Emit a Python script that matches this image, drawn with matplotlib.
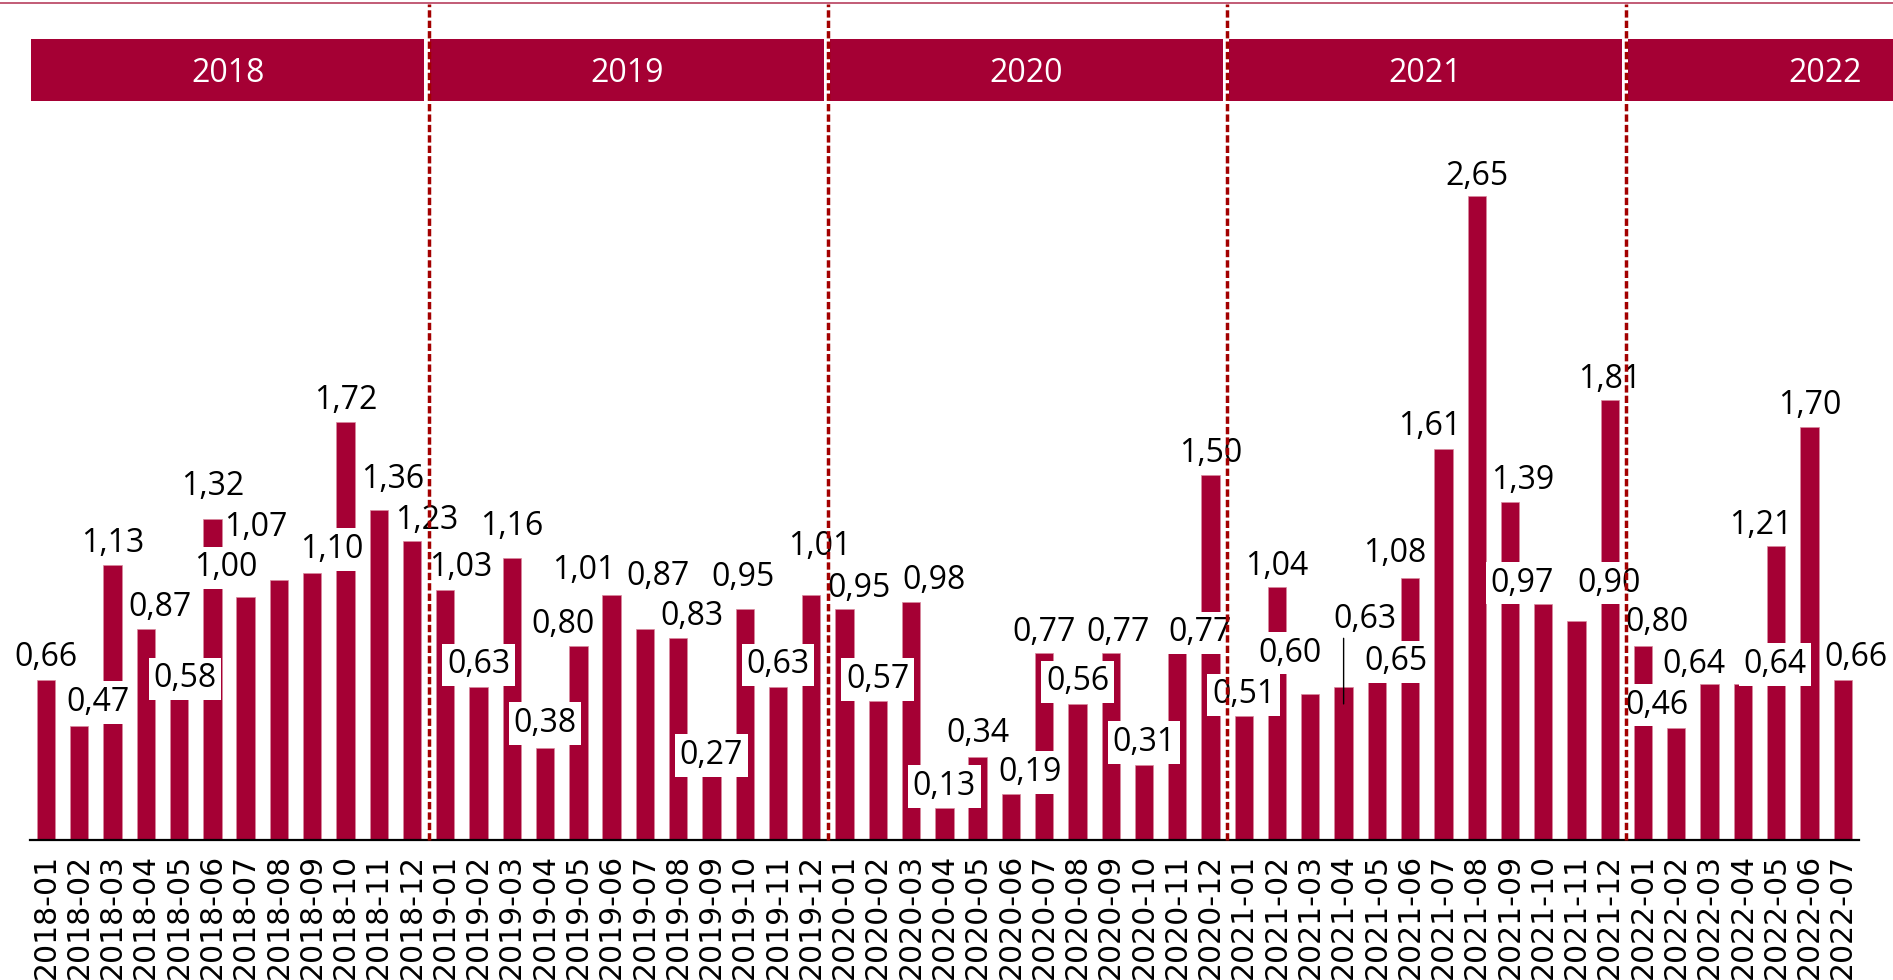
import matplotlib
matplotlib.use("Agg")
import matplotlib.pyplot as plt
from matplotlib.patches import Rectangle
from matplotlib.lines import Line2D

# ---------------- data ----------------
years = ["2018", "2019", "2020", "2021", "2022"]
months = ["01", "02", "03", "04", "05", "06", "07", "08", "09", "10", "11", "12"]
values_2018 = [0.66, 0.47, 1.13, 0.87, 0.58, 1.32, 1.00, 1.07, 1.10, 1.72, 1.36, 1.23]
values_2019 = [1.03, 0.63, 1.16, 0.38, 0.80, 1.01, 0.87, 0.83, 0.27, 0.95, 0.63, 1.01]
values_2020 = [0.95, 0.57, 0.98, 0.13, 0.34, 0.19, 0.77, 0.56, 0.77, 0.31, 0.77, 1.50]
values_2021 = [0.51, 1.04, 0.60, 0.63, 0.65, 1.08, 1.61, 2.65, 1.39, 0.97, 0.90, 1.81]
values_2022 = [0.80, 0.46, 0.64, 0.64, 1.21, 1.70, 0.66]

values = values_2018 + values_2019 + values_2020 + values_2021 + values_2022
categories = [f"{y}-{m}" for y in years[:4] for m in months] + \
             [f"2022-{m}" for m in months[:len(values_2022)]]

# ---------------- label placement (pixel offsets from bar top) ----------------
label_offsets = [
    (0, 25), (19, 26), (0, 25), (14, 24), (6, 23), (0, 36), (-20, 32), (-23, 55), (20, 26), (0, 24), (14, 33), (15, 24),
    (15, 25), (0, 25), (0, 35), (0, 27), (-15, 24), (-28, 27), (13, 55), (14, 25), (0, 22), (-2, 35), (0, 25), (9, 51),
    (14, 24), (0, 25), (23, 24), (0, 25), (0, 27), (19, 24), (0, 23), (0, 25), (7, 23), (0, 25), (23, 23), (0, 25),
    (0, 24), (0, 24), (-20, 44), (21, 70), (19, 23), (-15, 27), (-14, 25), (0, 22), (13, 25), (-21, 24), (33, 41), (0, 24),
    (14, 26), (-19, 26), (-16, 23), (32, 23), (-15, 23), (0, 24), (13, 25),
]
boxed = {1, 4, 6, 8, 13, 15, 20, 22, 25, 27, 29, 31, 33, 34, 36, 38, 40, 45, 46, 49, 51}
leader = {39}

# ---------------- style ----------------
RED = "#A50034"
DASH_RED = "#A30000"
W, H, DPI = 1893, 980, 100
LABEL_FS = 23
TICK_FS = 21.5

fig = plt.figure(figsize=(W / DPI, H / DPI), dpi=DPI)
fig.patch.set_facecolor("white")

# axes geometry: baseline at y=840px, 243 px per unit, bars 33.27 px apart
ax = fig.add_axes([30 / W, 140 / H, 1829 / W, 840 / H])
ax.set_xlim(-0.481, 54.49)
ax.set_ylim(0, 840 / 243)

x = list(range(len(values)))
ax.bar(x, values, width=0.55, color=RED, edgecolor="#D98A9E", linewidth=0.5, zorder=2)

# labels
em_px = LABEL_FS * DPI / 72
base_shift = 0.357 * em_px
for i, v in enumerate(values):
    dx, dy = label_offsets[i]
    txt = f"{v:.2f}".replace(".", ",")
    kw = {}
    if i in boxed:
        kw["bbox"] = dict(boxstyle="square,pad=0.15", fc="white", ec="none")
    ax.annotate(txt, xy=(i, v), xytext=(dx, dy - base_shift), textcoords="offset pixels",
                ha="center", va="baseline", fontsize=LABEL_FS, family="Open Sans",
                color="black", zorder=3, **kw)
    if i in leader:
        ax.annotate("", xy=(i, v - 0.07), xytext=(i, v + 0.2),
                    arrowprops=dict(arrowstyle="-", color="black", lw=1.0,
                                    shrinkA=0, shrinkB=0), zorder=3)

# year bands
band_y0 = (840 - 101) / 243
band_h = 62 / 243
for k, yr in enumerate(years):
    x0 = 12 * k - 0.45
    wdt = 11.82
    ax.add_patch(Rectangle((x0, band_y0), wdt, band_h, facecolor=RED, edgecolor="none",
                           clip_on=False, zorder=2))
    ax.text(x0 + wdt / 2, band_y0 + band_h / 2, yr, ha="center", va="center_baseline",
            color="white", fontsize=LABEL_FS, family="Open Sans", zorder=3, clip_on=False)

# dashed year separators
for k in range(1, len(years)):
    ax.plot([12 * k - 0.5, 12 * k - 0.5], [0, (840 - 4) / 243], color=DASH_RED, lw=2.5,
            linestyle=(0, (2.1, 0.9)), solid_capstyle="butt", dash_capstyle="butt",
            zorder=4, clip_on=False)

# top thin line
fig.add_artist(Line2D([0, 1], [1 - 3 / H, 1 - 3 / H], transform=fig.transFigure,
                      color="#B8405F", lw=1.2))

# axes styling
for s in ["top", "right", "left"]:
    ax.spines[s].set_visible(False)
ax.spines["bottom"].set_color("black")
ax.spines["bottom"].set_linewidth(1.6)
ax.set_yticks([])
ax.set_xticks(x)
ax.set_xticklabels(categories, rotation=90, fontsize=TICK_FS, family="DejaVu Sans")
ax.tick_params(axis="x", length=0, pad=10)

fig.savefig("out.png", dpi=DPI, facecolor="white")
